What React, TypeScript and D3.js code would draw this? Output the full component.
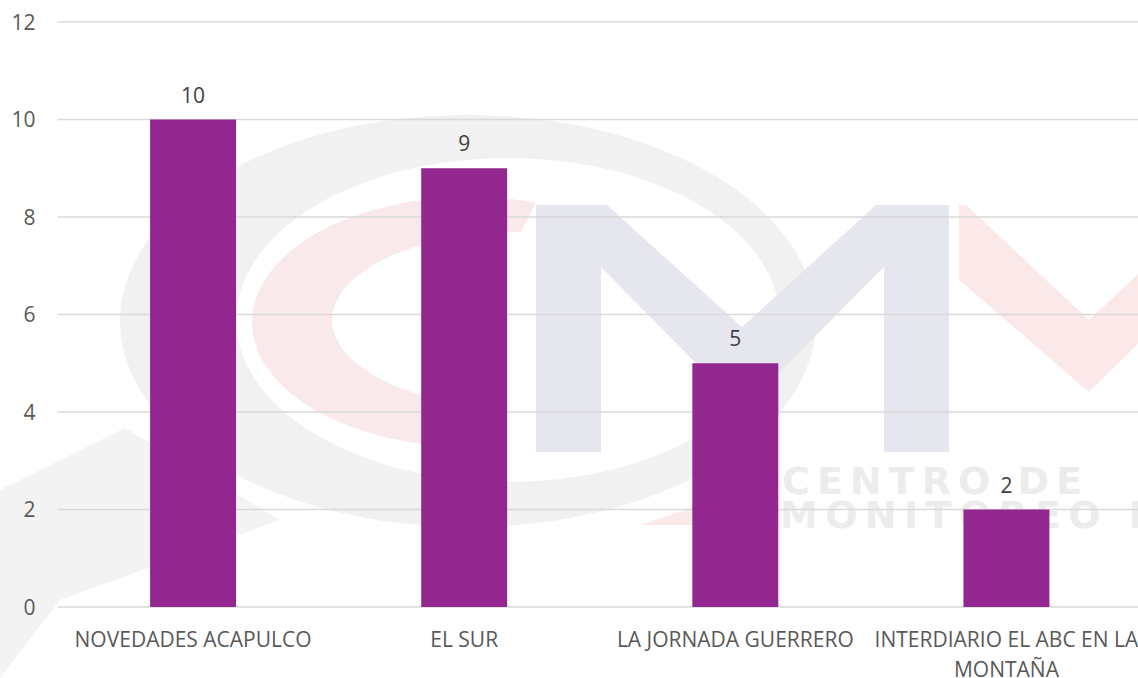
import React, { useEffect, useRef } from "react";
import * as d3 from "d3";

// newspapers and number of notes
const categories = [
  "NOVEDADES ACAPULCO",
  "EL SUR",
  "LA JORNADA GUERRERO",
  "INTERDIARIO EL ABC EN LA MONTAÑA",
];
const values = [10, 9, 5, 2];
const yTicks = [0, 2, 4, 6, 8, 10, 12];

const WIDTH = 1138;
const HEIGHT = 678;
const margin = { top: 22, right: -4, bottom: 71, left: 57.5 };
const FONT = "'Open Sans', 'DejaVu Sans', sans-serif";
const FONT_SIZE = 21;

function wrap(text: d3.Selection<SVGTextElement, string, SVGGElement, unknown>, width: number) {
  text.each(function () {
    const t = d3.select(this);
    const words = t.text().split(/\s+/);
    const x = t.attr("x");
    t.text(null);
    let line: string[] = [];
    let tspan = t.append("tspan").attr("x", x).attr("dy", 0);
    for (const w of words) {
      line.push(w);
      tspan.text(line.join(" "));
      if ((tspan.node() as SVGTSpanElement).getComputedTextLength() > width && line.length > 1) {
        line.pop();
        tspan.text(line.join(" "));
        line = [w];
        tspan = t.append("tspan").attr("x", x).attr("dy", 30).text(w);
      }
    }
  });
}

const ell = (cx: number, cy: number, rx: number, ry: number) =>
  `M${cx - rx},${cy} A${rx},${ry} 0 1 0 ${cx + rx},${cy} A${rx},${ry} 0 1 0 ${cx - rx},${cy} Z`;

// faded logo behind the chart
function drawWatermark(svg: d3.Selection<SVGSVGElement, unknown, null, undefined>) {
  const defs = svg.append("defs");
  defs.append("clipPath")
    .attr("id", "pink-open")
    .append("path")
    .attr("d", "M0,0 L540,0 L540,195 L470,330 L430,520 L0,520 Z");

  const g = svg.append("g");
  // gray arrow at the bottom left
  g.append("path")
    .attr("d", "M0,490 L125,428 L280,520 L60,600 L0,678 Z")
    .attr("fill", "#f3f3f3");
  // big gray ring
  g.append("path")
    .attr("d", ell(468, 321, 348, 206) + ell(508, 320, 272, 162))
    .attr("fill-rule", "evenodd")
    .attr("fill", "#f1f1f1");
  // pink C, open to the right
  g.append("path")
    .attr("d", ell(470, 322, 218, 125) + ell(520, 320, 188, 88))
    .attr("fill-rule", "evenodd")
    .attr("clip-path", "url(#pink-open)")
    .attr("fill", "#fae9eb");
  // M
  g.append("path")
    .attr("d", "M536,205 L607,205 L742,327 L876,205 L949,205 L949,452 L884,452 L884,267 L742,410 L601,267 L601,452 L536,452 Z")
    .attr("fill", "#e6e6ef");
  // V
  g.append("path")
    .attr("d", "M959,205 L966,205 L1089,320 L1140,272 L1140,342 L1089,392 L959,280 Z")
    .attr("fill", "#fbe9ea");
  g.append("path")
    .attr("d", "M640,525 L700,505 L740,525 Z")
    .attr("fill", "#fbeaea");
  g.append("text")
    .attr("x", 782)
    .attr("y", 494)
    .attr("font-family", "'DejaVu Sans', sans-serif")
    .attr("font-weight", "bold")
    .attr("font-size", 38)
    .attr("fill", "#ececec")
    .attr("textLength", 300)
    .text("CENTRO DE");
  g.append("text")
    .attr("x", 780)
    .attr("y", 528)
    .attr("font-family", "'DejaVu Sans', sans-serif")
    .attr("font-weight", "bold")
    .attr("font-size", 38)
    .attr("fill", "#ececec")
    .attr("textLength", 380)
    .text("MONITOREO D");
}

export default function App() {
  const ref = useRef<SVGSVGElement>(null);

  useEffect(() => {
    document.body.style.margin = "0";
    const svg = d3.select(ref.current!);
    svg.selectAll("*").remove();

    drawWatermark(svg);

    const innerW = WIDTH - margin.left - margin.right;
    const innerH = HEIGHT - margin.top - margin.bottom;

    const x = d3.scaleBand<string>()
      .domain(categories)
      .range([0, innerW])
      .paddingInner(0.683)
      .paddingOuter(0.3415);

    const y = d3.scaleLinear().domain([0, 12]).range([innerH, 0]);

    const g = svg.append("g").attr("transform", `translate(${margin.left},${margin.top})`);

    // gridlines
    g.append("g")
      .selectAll("line")
      .data(yTicks)
      .join("line")
      .attr("x1", 0)
      .attr("x2", innerW)
      .attr("y1", (d) => y(d))
      .attr("y2", (d) => y(d))
      .attr("stroke", "#d9d9d9")
      .attr("stroke-width", 1.5);

    // y tick labels
    g.append("g")
      .selectAll("text")
      .data(yTicks)
      .join("text")
      .attr("x", -22)
      .attr("y", (d) => y(d))
      .attr("dy", "0.36em")
      .attr("text-anchor", "end")
      .attr("font-family", FONT)
      .attr("font-size", FONT_SIZE)
      .attr("fill", "#595959")
      .text((d) => d);

    // bars
    g.append("g")
      .selectAll("rect")
      .data(values)
      .join("rect")
      .attr("x", (_, i) => x(categories[i])!)
      .attr("y", (d) => y(d))
      .attr("width", x.bandwidth())
      .attr("height", (d) => y(0) - y(d))
      .attr("fill", "#92278f");

    // value labels
    g.append("g")
      .selectAll("text")
      .data(values)
      .join("text")
      .attr("x", (_, i) => x(categories[i])! + x.bandwidth() / 2)
      .attr("y", (d) => y(d) - 17)
      .attr("text-anchor", "middle")
      .attr("font-family", FONT)
      .attr("font-size", FONT_SIZE)
      .attr("fill", "#404040")
      .text((d) => d);

    // category labels
    const labels = g.append("g")
      .selectAll<SVGTextElement, string>("text")
      .data(categories)
      .join("text")
      .attr("x", (d) => x(d)! + x.bandwidth() / 2)
      .attr("y", innerH + 40)
      .attr("text-anchor", "middle")
      .attr("font-family", FONT)
      .attr("font-size", FONT_SIZE)
      .attr("fill", "#595959")
      .text((d) => d);
    wrap(labels as any, x.step());
  }, []);

  return <svg ref={ref} width={WIDTH} height={HEIGHT} style={{ display: "block", background: "#fff" }} />;
}
